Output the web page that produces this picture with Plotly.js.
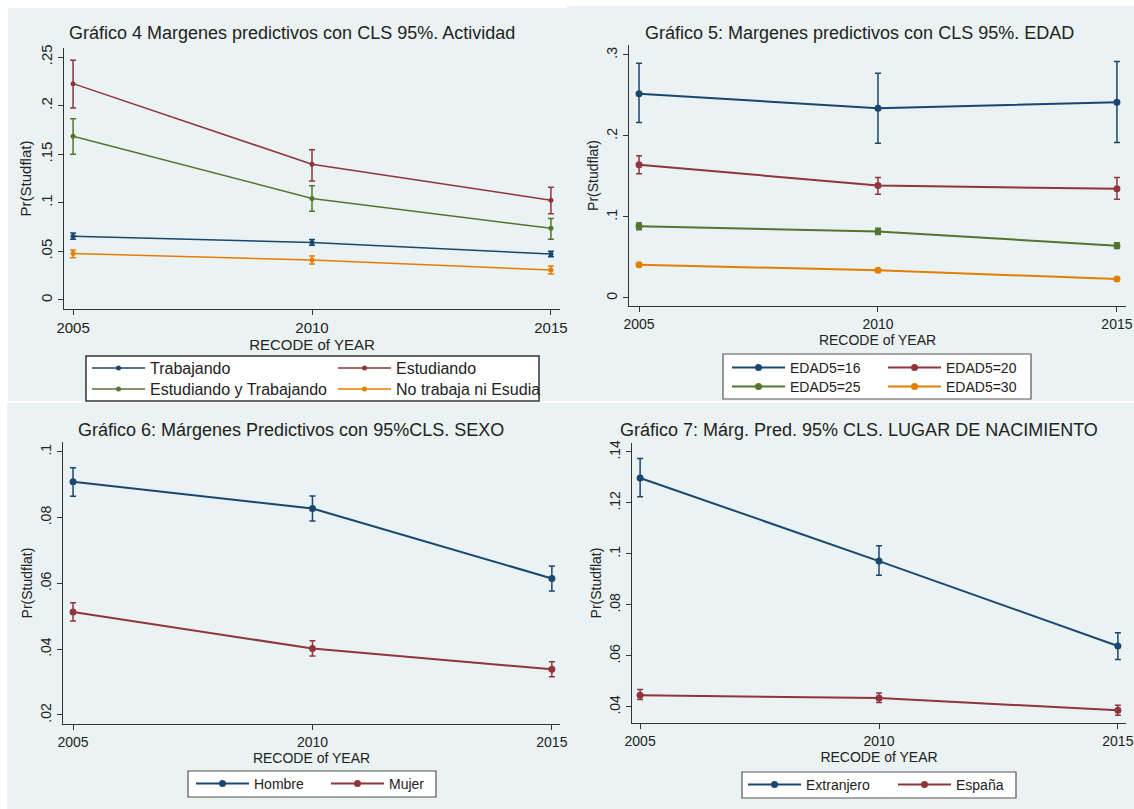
<!DOCTYPE html>
<html><head><meta charset="utf-8">
<script src="https://cdn.plot.ly/plotly-3.0.1.min.js"></script>
<style>html,body{margin:0;padding:0;background:#fff}#chart{width:1134px;height:809px}</style>
</head><body><div id="chart"></div>
<script>
// ---------- DATA ----------
const years = [2005, 2010, 2015];

// Gráfico 4 – Actividad
const act_names = ['Trabajando', 'Estudiando', 'Estudiando y Trabajando', 'No trabaja ni Esudia'];
const act_trab = [0.0655, 0.0592, 0.0473];
const act_trab_lo = [0.0625, 0.0562, 0.0445];
const act_trab_hi = [0.0688, 0.0622, 0.0502];
const act_est = [0.2226, 0.1397, 0.1027];
const act_est_lo = [0.1975, 0.1225, 0.0887];
const act_est_hi = [0.2466, 0.1545, 0.1160];
const act_eyt = [0.1685, 0.1045, 0.0738];
const act_eyt_lo = [0.1500, 0.0914, 0.0625];
const act_eyt_hi = [0.1866, 0.1175, 0.0838];
const act_nini = [0.0478, 0.0411, 0.0308];
const act_nini_lo = [0.0435, 0.0370, 0.0268];
const act_nini_hi = [0.0514, 0.0452, 0.0350];

// Gráfico 5 – EDAD
const edad_names = ['EDAD5=16', 'EDAD5=20', 'EDAD5=25', 'EDAD5=30'];
const edad16 = [0.2520, 0.2343, 0.2417];
const edad16_lo = [0.2166, 0.1911, 0.1920];
const edad16_hi = [0.2898, 0.2774, 0.2918];
const edad20 = [0.1644, 0.1389, 0.1348];
const edad20_lo = [0.1533, 0.1282, 0.1220];
const edad20_hi = [0.1755, 0.1488, 0.1488];
const edad25 = [0.0884, 0.0822, 0.0645];
const edad25_lo = [0.0843, 0.0785, 0.0610];
const edad25_hi = [0.0930, 0.0860, 0.0682];
const edad30 = [0.0411, 0.0341, 0.0234];
const edad30_lo = [0.0390, 0.0320, 0.0215];
const edad30_hi = [0.0432, 0.0362, 0.0253];

// Gráfico 6 – SEXO
const sexo_names = ['Hombre', 'Mujer'];
const hombre = [0.0909, 0.0828, 0.0615];
const hombre_lo = [0.0865, 0.0790, 0.0577];
const hombre_hi = [0.0952, 0.0866, 0.0653];
const mujer = [0.0513, 0.0402, 0.0339];
const mujer_lo = [0.0486, 0.0379, 0.0316];
const mujer_hi = [0.0541, 0.0426, 0.0362];

// Gráfico 7 – Lugar de nacimiento
const lugar_names = ['Extranjero', 'España'];
const extranjero = [0.1298, 0.0972, 0.0639];
const extranjero_lo = [0.1224, 0.0916, 0.0586];
const extranjero_hi = [0.1374, 0.1032, 0.0691];
const espana = [0.0446, 0.0435, 0.0387];
const espana_lo = [0.0429, 0.0417, 0.0367];
const espana_hi = [0.0468, 0.0455, 0.0407];

// Tick labels
const ticks4_vals = [0, 0.05, 0.1, 0.15, 0.2, 0.25];
const ticks4_text = ['0', '.05', '.1', '.15', '.2', '.25'];
const ticks5_vals = [0, 0.1, 0.2, 0.3];
const ticks5_text = ['0', '.1', '.2', '.3'];
const ticks6_vals = [0.02, 0.04, 0.06, 0.08, 0.1];
const ticks6_text = ['.02', '.04', '.06', '.08', '.1'];
const ticks7_vals = [0.04, 0.06, 0.08, 0.1, 0.12, 0.14];
const ticks7_text = ['.04', '.06', '.08', '.1', '.12', '.14'];

const titles = [
  'Gráfico 4 Margenes predictivos con CLS 95%. Actividad',
  'Gráfico 5: Margenes predictivos con CLS 95%. EDAD',
  'Gráfico 6: Márgenes Predictivos con 95%CLS. SEXO',
  'Gráfico 7: Márg. Pred. 95% CLS. LUGAR DE NACIMIENTO'
];
const xTitle = 'RECODE of YEAR';
const yTitle = 'Pr(Studflat)';

// ---------- STYLE ----------
const W = 1134, H = 809;
const px = p => p / W;
const py = p => 1 - p / H;
const NAVY = '#1a476f', MAROON = '#90353b', GREEN = '#55752f', ORANGE = '#e37e00';
const BG = '#eaf2f3', TXT = '#222222', AX = '#333333';

function trace(xa, ya, name, y, lo, hi, color, legend, msize, lw) {
  return {
    type: 'scatter', mode: 'lines+markers', x: years, y: y, name: name,
    xaxis: xa, yaxis: ya, legend: legend,
    line: {color: color, width: lw},
    marker: {color: color, size: msize, symbol: 'circle'},
    error_y: {type: 'data', symmetric: false,
      array: hi.map((v, i) => v - y[i]), arrayminus: lo.map((v, i) => y[i] - v),
      color: color, thickness: 1.5, width: 3},
    hoverinfo: 'x+y+name'
  };
}

const data = [
  trace('x', 'y', act_names[0], act_trab, act_trab_lo, act_trab_hi, NAVY, 'legend', 5, 1.5),
  trace('x', 'y', act_names[1], act_est, act_est_lo, act_est_hi, MAROON, 'legend2', 5, 1.5),
  trace('x', 'y', act_names[2], act_eyt, act_eyt_lo, act_eyt_hi, GREEN, 'legend3', 5, 1.5),
  trace('x', 'y', act_names[3], act_nini, act_nini_lo, act_nini_hi, ORANGE, 'legend4', 5, 1.5),
  trace('x2', 'y2', edad_names[0], edad16, edad16_lo, edad16_hi, NAVY, 'legend5', 7, 2),
  trace('x2', 'y2', edad_names[1], edad20, edad20_lo, edad20_hi, MAROON, 'legend6', 7, 2),
  trace('x2', 'y2', edad_names[2], edad25, edad25_lo, edad25_hi, GREEN, 'legend7', 7, 2),
  trace('x2', 'y2', edad_names[3], edad30, edad30_lo, edad30_hi, ORANGE, 'legend8', 7, 2),
  trace('x3', 'y3', sexo_names[0], hombre, hombre_lo, hombre_hi, NAVY, 'legend9', 7, 2),
  trace('x3', 'y3', sexo_names[1], mujer, mujer_lo, mujer_hi, MAROON, 'legend10', 7, 2),
  trace('x4', 'y4', lugar_names[0], extranjero, extranjero_lo, extranjero_hi, NAVY, 'legend11', 7, 2),
  trace('x4', 'y4', lugar_names[1], espana, espana_lo, espana_hi, MAROON, 'legend12', 7, 2)
];

function xaxis(l, r, range, anchor, fs) {
  return {domain: [px(l), px(r)], range: range, anchor: anchor,
    tickvals: years, ticks: 'outside', ticklen: 5, tickcolor: AX, tickwidth: 1,
    showline: true, linecolor: AX, linewidth: 1, showgrid: false, zeroline: false,
    tickfont: {size: fs, color: TXT},
    title: {text: xTitle, font: {size: fs, color: TXT}, standoff: 0}, fixedrange: true};
}
function yaxis(t, b, range, anchor, vals, text, fs) {
  return {domain: [py(b), py(t)], range: range, anchor: anchor,
    tickvals: vals, ticktext: text, tickangle: -90,
    ticks: 'outside', ticklen: 5, tickcolor: AX, tickwidth: 1,
    showline: true, linecolor: AX, linewidth: 1,
    showgrid: true, gridcolor: BG, gridwidth: 1.5, zeroline: false,
    tickfont: {size: fs, color: TXT},
    title: {text: yTitle, font: {size: fs, color: TXT}, standoff: 2}, fixedrange: true};
}

function leg(lineStart, rowY, fs) {
  return {x: px(lineStart - 5), y: py(rowY), xanchor: 'left', yanchor: 'middle',
    orientation: 'v', bgcolor: 'rgba(0,0,0,0)', borderwidth: 0,
    itemwidth: 53, font: {size: fs, color: TXT}, itemclick: false, itemdoubleclick: false};
}

function rect(x0, y0, x1, y1, fill, lineColor, lw) {
  return {type: 'rect', xref: 'paper', yref: 'paper', layer: 'below',
    x0: px(x0), x1: px(x1), y0: py(y1), y1: py(y0),
    fillcolor: fill, line: {color: lineColor || fill, width: lw || 0}};
}

function ttl(text, cx, cy) {
  return {text: text, xref: 'paper', yref: 'paper', x: px(cx), y: py(cy),
    xanchor: 'center', yanchor: 'middle', showarrow: false,
    font: {size: 18, color: TXT}};
}

const layout = {
  width: W, height: H, autosize: false,
  margin: {l: 0, r: 0, t: 0, b: 0, pad: 0},
  paper_bgcolor: '#ffffff', plot_bgcolor: '#ffffff',
  font: {family: '"Liberation Sans", Arial, sans-serif', color: TXT},
  showlegend: true,
  xaxis: xaxis(64, 560, [2004.81, 2015.19], 'y', 15),
  yaxis: yaxis(48, 309, [-0.0093, 0.2593], 'x', ticks4_vals, ticks4_text, 15),
  xaxis2: xaxis(629, 1126, [2004.79, 2015.19], 'y2', 14),
  yaxis2: yaxis(45, 306, [-0.0099, 0.3123], 'x2', ticks5_vals, ticks5_text, 14),
  xaxis3: xaxis(63, 560, [2004.79, 2015.17], 'y3', 14),
  yaxis3: yaxis(442, 724, [0.01726, 0.103], 'x3', ticks6_vals, ticks6_text, 14),
  xaxis4: xaxis(632, 1126, [2004.83, 2015.17], 'y4', 14),
  yaxis4: yaxis(443, 723, [0.0337, 0.1435], 'x4', ticks7_vals, ticks7_text, 14),
  legend: leg(92, 368, 16),
  legend2: leg(338, 368, 16),
  legend3: leg(92, 389, 16),
  legend4: leg(338, 389, 16),
  legend5: leg(732, 368, 14),
  legend6: leg(888, 368, 14),
  legend7: leg(732, 387, 14),
  legend8: leg(888, 387, 14),
  legend9: leg(196, 784, 14),
  legend10: leg(331, 784, 14),
  legend11: leg(748, 785, 14),
  legend12: leg(898, 785, 14),
  shapes: [
    rect(8, 8, 567, 401, BG),
    rect(567, 6, 1134, 401, BG),
    rect(7, 403, 567, 809, BG),
    rect(567, 403, 1134, 809, BG),
    rect(86, 356, 539, 401, '#ffffff', AX, 1.5),
    rect(723, 354, 1031, 399, '#ffffff', '#555555', 1.2),
    rect(188, 771, 436, 797, '#ffffff', '#555555', 1.2),
    rect(742, 772, 1016, 798, '#ffffff', '#555555', 1.2)
  ],
  annotations: [
    ttl(titles[0], 292, 33),
    ttl(titles[1], 859, 33),
    ttl(titles[2], 291, 430),
    ttl(titles[3], 859, 430)
  ]
};

Plotly.newPlot('chart', data, layout, {displayModeBar: false, staticPlot: false});
</script>
</body></html>
